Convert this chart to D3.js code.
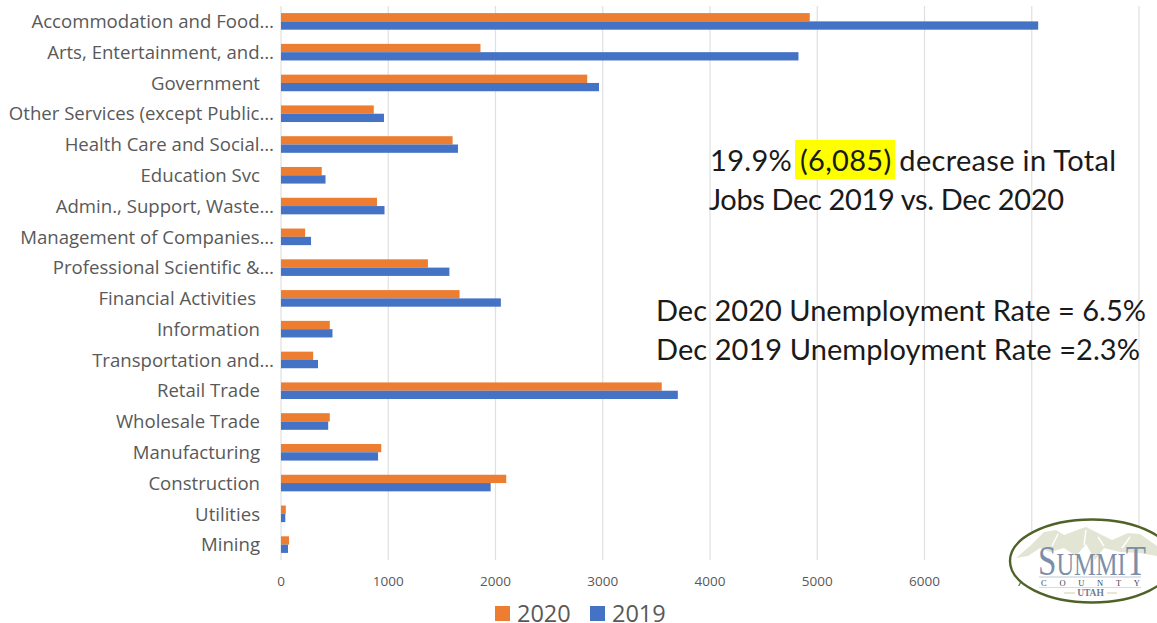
<!DOCTYPE html>
<html><head><meta charset="utf-8">
<script src="https://cdnjs.cloudflare.com/ajax/libs/d3/7.8.5/d3.min.js"></script>
<style>html,body{margin:0;padding:0;background:#fff;overflow:hidden}svg{display:block}</style>
</head><body><svg id="c" width="1157" height="623"></svg>
<script>
const categories=["Accommodation and Food…","Arts, Entertainment, and…","Government","Other Services (except Public…","Health Care and Social…","Education Svc","Admin., Support, Waste…","Management of Companies…","Professional Scientific &…","Financial Activities","Information","Transportation and…","Retail Trade","Wholesale Trade","Manufacturing","Construction","Utilities","Mining"];
const values2020=[4930,1860,2855,865,1600,380,895,225,1370,1665,455,300,3550,455,935,2100,45,75];
const values2019=[7060,4825,2965,960,1650,415,965,280,1570,2050,480,345,3700,440,905,1955,40,65];
const xTicks=[0,1000,2000,3000,4000,5000,6000,7000,8000];
const seriesNames=["2020","2019"];
const seriesColors=["#ed7d31","#4472c4"];
const annotations=[
 {x:710,y:170.5,w:406,text:"19.9% (6,085) decrease in Total"},
 {x:709,y:209.5,w:355,text:"Jobs Dec 2019 vs. Dec 2020"},
 {x:656,y:320.5,w:490,text:"Dec 2020 Unemployment Rate = 6.5%"},
 {x:656,y:359.5,w:484,text:"Dec 2019 Unemployment Rate =2.3%"}
];
const svg=d3.select("#c");
const x=d3.scaleLinear().domain([0,8000]).range([281,1139]);
const y=d3.scaleBand().domain(categories).range([6,560]);
const sub=d3.scaleBand().domain(seriesNames).range([y.bandwidth()/2-8.3,y.bandwidth()/2+8.3]);
const LF="'Open Sans',sans-serif";

svg.append("g").selectAll("line").data(xTicks).join("line")
 .attr("x1",d=>x(d)).attr("x2",d=>x(d)).attr("y1",6).attr("y2",560)
 .attr("stroke","#e0e0e0").attr("stroke-width",1.2);

const xAxis=svg.append("g").attr("transform","translate(0,560)")
 .call(d3.axisBottom(x).tickValues(xTicks).tickSize(0).tickPadding(16).tickFormat(d3.format("d")));
xAxis.select(".domain").remove();
xAxis.selectAll("text").attr("font-family",LF).attr("font-size",13.5).attr("fill","#595959").attr("dx",-0.5);

const yAxis=svg.append("g").attr("transform","translate(274,0)")
 .call(d3.axisLeft(y).tickSize(0).tickPadding(0));
yAxis.select(".domain").remove();
yAxis.selectAll("text").attr("font-family",LF).attr("font-size",18.6).attr("fill","#595959")
 .attr("dx",d=>d.endsWith("…")?0:(d==="Financial Activities"?-18:-14)).attr("dy","0.36em");

const rows=svg.append("g").selectAll("g").data(categories).join("g")
 .attr("transform",d=>`translate(0,${y(d)})`);
rows.append("rect").attr("x",x(0)).attr("y",sub("2020")).attr("height",sub.bandwidth())
 .attr("width",(d,i)=>x(values2020[i])-x(0)).attr("fill",seriesColors[0]);
rows.append("rect").attr("x",x(0)).attr("y",sub("2019")).attr("height",sub.bandwidth())
 .attr("width",(d,i)=>x(values2019[i])-x(0)).attr("fill",seriesColors[1]);

// legend
const leg=svg.append("g");
[[495,517],[590,612]].forEach(([sx,tx],i)=>{
 leg.append("rect").attr("x",sx).attr("y",606).attr("width",15).attr("height",15).attr("fill",seriesColors[i]);
 leg.append("text").attr("x",tx).attr("y",621.5).attr("font-family",LF).attr("font-size",23.5).attr("fill","#595959").text(seriesNames[i]);
});

// annotations
svg.append("rect").attr("x",795).attr("y",140).attr("width",100).attr("height",39).attr("fill","#ffff00");
annotations.forEach(a=>{
 svg.append("text").attr("x",a.x).attr("y",a.y).attr("font-family","Lato,sans-serif").attr("font-size",29)
  .attr("fill","#1a1a1a").attr("textLength",a.w).attr("lengthAdjust","spacing").text(a.text);
});

// logo
const logo=svg.append("g");
const SF="'Liberation Serif',serif";
logo.append("ellipse").attr("cx",1092).attr("cy",561).attr("rx",82).attr("ry",41.5).attr("fill","#fff").attr("stroke","#4f6228").attr("stroke-width",2.4);
logo.append("path").attr("d","M1016,558 L1030,546 L1044,532 L1056,530 L1064,535 L1080,529 L1086,527 L1098,533 L1112,540 L1128,533 L1140,534 L1157,546 L1157,556 L1140,553 L1120,552 L1104,548 L1095,560 L1086,544 L1076,556 L1064,548 L1050,552 L1040,548 L1028,556 Z").attr("fill","#e2e5d3");
logo.append("path").attr("d","M1086,530 L1084,545 M1098,537 L1104,546 M1058,534 L1052,546 M1130,537 L1122,548").attr("stroke","#fff").attr("stroke-width",1.5).attr("fill","none");
const st=logo.append("text").attr("x",1038).attr("y",574.5).attr("font-family",SF).attr("fill","#7c8fa8").attr("textLength",108).attr("lengthAdjust","spacingAndGlyphs");
st.append("tspan").attr("font-size",42).text("S");
st.append("tspan").attr("font-size",31).text("UMMI");
st.append("tspan").attr("font-size",42).text("T");
logo.append("line").attr("x1",1039).attr("x2",1141).attr("y1",577).attr("y2",577).attr("stroke","#d5dbe3").attr("stroke-width",1.5);
logo.append("text").attr("x",1041).attr("y",585.5).attr("font-family",SF).attr("font-size",8.5).attr("fill","#3c4a5a").attr("textLength",99).attr("lengthAdjust","spacing").text("COUNTY");
logo.append("line").attr("x1",1039).attr("x2",1141).attr("y1",587.5).attr("y2",587.5).attr("stroke","#d5dbe3").attr("stroke-width",1);
logo.append("text").attr("x",1090.5).attr("y",596).attr("text-anchor","middle").attr("font-family",SF).attr("font-weight","bold").attr("font-size",9.5).attr("fill","#6f7f92").text("UTAH");
logo.append("line").attr("x1",1064).attr("x2",1075).attr("y1",593).attr("y2",593).attr("stroke","#d3d8b8").attr("stroke-width",1.2);
logo.append("line").attr("x1",1107).attr("x2",1117).attr("y1",593).attr("y2",593).attr("stroke","#d3d8b8").attr("stroke-width",1.2);
</script></body></html>
